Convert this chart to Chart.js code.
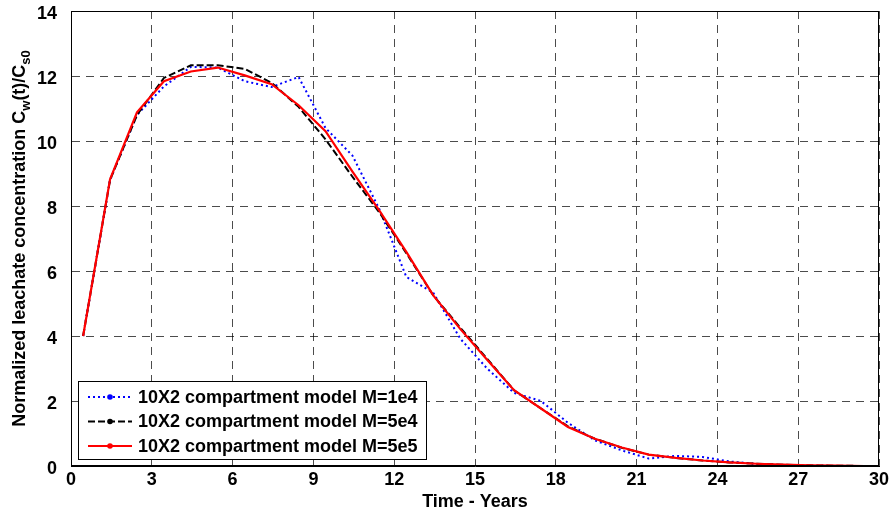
<!DOCTYPE html>
<html>
<head>
<meta charset="utf-8">
<script src="https://cdn.jsdelivr.net/npm/chart.js@4.4.1/dist/chart.umd.min.js"></script>
<style>
  html, body { margin: 0; padding: 0; background: #fff; }
  #wrap { width: 890px; height: 513px; }
</style>
</head>
<body>
<div id="wrap"><canvas id="c" width="890" height="513"></canvas></div>
<script>
// simulation output times (years) and normalized leachate concentration Cw(t)/Cs0
const years = [0.45, 1.45, 2.45, 3.45, 4.45, 5.45, 6.45, 7.45, 8.45, 9.45,
  10.45, 11.45, 12.45, 13.45, 14.45, 15.45, 16.45, 17.45, 18.45, 19.45,
  20.45, 21.45, 22.45, 23.45, 24.45, 25.45, 26.45, 27.45, 28.45, 29.45, 30.45];

const concM1e4 = [4.0, 8.8, 10.8, 11.68, 12.28, 12.26, 11.84, 11.66, 11.97, 10.4,
  9.55, 7.9, 5.82, 5.33, 3.92, 3.0, 2.25, 2.0, 1.33, 0.79,
  0.48, 0.23, 0.31, 0.28, 0.14, 0.06, 0.0, 0.01, 0.0, 0.0, 0.0];

const concM5e4 = [4.0, 8.8, 10.8, 11.94, 12.33, 12.33, 12.22, 11.79, 11.05, 10.05,
  8.9, 7.8, 6.55, 5.25, 4.26, 3.3, 2.33, 1.77, 1.22, 0.84,
  0.56, 0.35, 0.25, 0.17, 0.11, 0.07, 0.04, 0.02, 0.01, 0.0, 0.0];

const concM5e5 = [4.0, 8.82, 10.88, 11.84, 12.14, 12.26, 12.02, 11.75, 11.1, 10.3,
  9.06, 7.86, 6.59, 5.25, 4.22, 3.27, 2.33, 1.77, 1.2, 0.84,
  0.57, 0.35, 0.25, 0.17, 0.11, 0.07, 0.04, 0.02, 0.01, 0.0, 0.0];

const seriesLabels = [
  '10X2 compartment model M=1e4',
  '10X2 compartment model M=5e4',
  '10X2 compartment model M=5e5'
];

const xTicks = [0, 3, 6, 9, 12, 15, 18, 21, 24, 27, 30];
const yTicks = [0, 2, 4, 6, 8, 10, 12, 14];

const FONT = '"Liberation Sans", Arial, Helvetica, sans-serif';

const toPoints = vals => years.map((t, i) => ({x: t, y: vals[i]}));

// box around the axes, legend in the lower left corner, y label with subscripts
const extras = {
  id: 'extras',
  afterDatasetsDraw(chart) {
    const {ctx, chartArea: a} = chart;
    ctx.save();
    ctx.strokeStyle = '#000';
    ctx.lineWidth = 1;
    ctx.setLineDash([]);
    ctx.strokeRect(Math.round(a.left) + 0.5, Math.round(a.top) + 0.5,
      Math.round(a.width) - 1, Math.round(a.height) - 1);

    // legend
    const bx = a.left + 7, by = a.bottom - 85, bw = 348, bh = 78;
    ctx.fillStyle = '#fff';
    ctx.fillRect(bx, by, bw, bh);
    ctx.strokeRect(Math.round(bx) + 0.5, Math.round(by) + 0.5, bw, bh);
    ctx.font = 'bold 18px ' + FONT;
    ctx.textBaseline = 'middle';
    ctx.textAlign = 'left';
    chart.data.datasets.forEach((ds, i) => {
      const y = by + 16 + i * 24.5;
      ctx.strokeStyle = ds.borderColor;
      ctx.lineWidth = ds.borderWidth;
      ctx.setLineDash(ds.borderDash || []);
      ctx.beginPath();
      ctx.moveTo(bx + 10, y);
      ctx.lineTo(bx + 54, y);
      ctx.stroke();
      ctx.setLineDash([]);
      ctx.fillStyle = ds.borderColor;
      ctx.beginPath();
      ctx.arc(bx + 32, y, 2.8, 0, Math.PI * 2);
      ctx.fill();
      ctx.fillStyle = '#000';
      ctx.fillText(ds.label, bx + 60, y + 1);
    });

    // y axis title: Normalized leachate concentration C_w(t)/C_s0
    const parts = [
      ['Normalized leachate concentration C', false],
      ['w', true],
      ['(t)/C', false],
      ['s0', true]
    ];
    const big = 'bold 18px ' + FONT, small = 'bold 13px ' + FONT;
    let total = 0;
    parts.forEach(([s, sub]) => { ctx.font = sub ? small : big; total += ctx.measureText(s).width; });
    ctx.translate(25, (a.top + a.bottom) / 2);
    ctx.rotate(-Math.PI / 2);
    ctx.textBaseline = 'alphabetic';
    ctx.fillStyle = '#000';
    let x = -total / 2;
    parts.forEach(([s, sub]) => {
      ctx.font = sub ? small : big;
      ctx.fillText(s, x, sub ? 5 : 0);
      x += ctx.measureText(s).width;
    });
    ctx.restore();
  }
};

new Chart(document.getElementById('c'), {
  type: 'line',
  data: {
    datasets: [
      {
        label: seriesLabels[0],
        data: toPoints(concM1e4),
        borderColor: '#0000ff',
        borderWidth: 2,
        borderDash: [2, 3],
        order: 2
      },
      {
        label: seriesLabels[1],
        data: toPoints(concM5e4),
        borderColor: '#000000',
        borderWidth: 2,
        borderDash: [7, 3],
        order: 1
      },
      {
        label: seriesLabels[2],
        data: toPoints(concM5e5),
        borderColor: '#ff0000',
        borderWidth: 2.2,
        order: 0
      }
    ]
  },
  options: {
    responsive: false,
    animation: false,
    devicePixelRatio: 1,
    layout: {padding: {left: 0, right: 11, top: 11, bottom: 0}},
    elements: {
      point: {radius: 0, hoverRadius: 0},
      line: {tension: 0, fill: false}
    },
    plugins: {
      legend: {display: false},
      tooltip: {enabled: false}
    },
    scales: {
      x: {
        type: 'linear',
        min: 0,
        max: 30,
        afterBuildTicks: s => { s.ticks = xTicks.map(v => ({value: v})); },
        afterFit: s => { s.height = 47; s.paddingLeft = 0; s.paddingRight = 0; },
        grid: {color: 'rgba(0,0,0,0.7)', lineWidth: 1, drawTicks: false},
        border: {display: true, color: '#000', width: 1, dash: [8, 6]},
        ticks: {
          padding: 3,
          color: '#000',
          maxRotation: 0,
          font: {family: FONT, size: 18, weight: 'bold'}
        },
        title: {
          display: true,
          text: 'Time - Years',
          color: '#000',
          padding: {top: 0, bottom: 0},
          font: {family: FONT, size: 18, weight: 'bold'}
        }
      },
      y: {
        type: 'linear',
        min: 0,
        max: 14,
        afterBuildTicks: s => { s.ticks = yTicks.map(v => ({value: v})); },
        afterFit: s => { s.width = 71; s.paddingTop = 0; s.paddingBottom = 0; },
        grid: {color: 'rgba(0,0,0,0.7)', lineWidth: 1, drawTicks: false},
        border: {display: true, color: '#000', width: 1, dash: [8, 6]},
        ticks: {
          padding: 14,
          labelOffset: 3,
          color: '#000',
          font: {family: FONT, size: 18, weight: 'bold'}
        }
      }
    }
  },
  plugins: [extras]
});
</script>
</body>
</html>
